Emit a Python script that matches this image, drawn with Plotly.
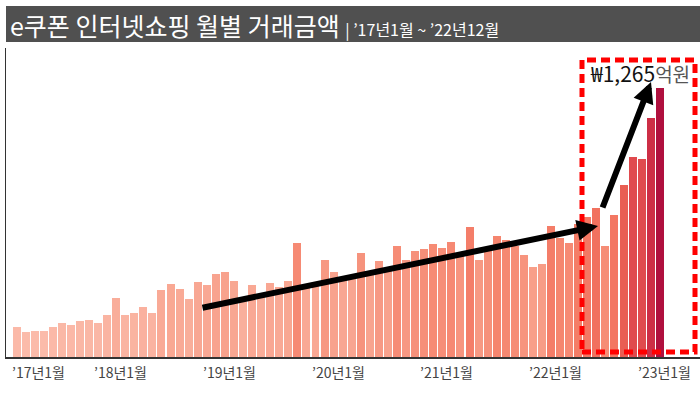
import plotly.graph_objects as go

# ---- data (monthly e-coupon internet shopping transaction amount, 억원) ----
months = [f"{y}-{m:02d}" for y in range(2017, 2023) for m in range(1, 13)]
values = [
    140, 116, 121, 121, 143, 159, 153, 170, 173, 162, 200, 280,   # 2017
    200, 206, 234, 209, 318, 346, 322, 275, 353, 341, 393, 402,   # 2018
    357, 264, 341, 287, 350, 330, 357, 536, 330, 338, 457, 402,   # 2019
    363, 372, 489, 389, 452, 406, 525, 459, 499, 509, 534, 514,   # 2020
    542, 475, 612, 456, 499, 569, 551, 523, 482, 423, 440, 619,   # 2021
    559, 536, 625, 660, 702, 523, 668, 810, 942, 935, 1124, 1265, # 2022
]
tick_pos = [0, 12, 24, 36, 48, 60, 72]
tick_labels = ["’17년1월", "’18년1월", "’19년1월", "’20년1월", "’21년1월", "’22년1월", "’23년1월"]
title_main = "e쿠폰 인터넷쇼핑 월별 거래금액"
title_sub = "| ’17년1월 ~ ’22년12월"
peak_label = "₩1,265"
peak_unit = "억원"

W, H = 700, 393
ML, MR, MT, MB = 6, 0, 48, 36
PW, PH = W - ML - MR, H - MT - MB
BASE = H - MB

def px(xp):
    return (xp - ML) / PW

def py(yp):
    return (BASE - yp) / PH

xs = [i + 0.5 for i in range(len(values))]

colorscale = [
    [0.0, "#fbbcab"],
    [0.25, "#f8a38e"],
    [0.40, "#f5846d"],
    [0.50, "#f27461"],
    [0.60, "#ea5f53"],
    [0.72, "#e04a4e"],
    [0.82, "#d93b49"],
    [0.92, "#c52544"],
    [1.0, "#b0103e"],
]

fig = go.Figure()
fig.add_trace(go.Bar(
    x=xs, y=values, width=0.88,
    marker=dict(color=values, colorscale=colorscale, cmin=110, cmax=1265, line=dict(width=0)),
    hoverinfo="skip", showlegend=False,
))

annotations = []
# x tick labels
for i, (p, t) in enumerate(zip(tick_pos, tick_labels)):
    annotations.append(dict(
        x=p, y=py(372), xref="x", yref="paper", text=t, showarrow=False,
        xanchor="left" if i == 0 else "center", xshift=-2 if i == 0 else 0,
        yanchor="middle",
        font=dict(family="Noto Sans CJK KR", size=14, color="#444444"),
    ))

# title
annotations.append(dict(
    x=px(8), y=py(25), xref="paper", yref="paper", xanchor="left", yanchor="middle",
    showarrow=False,
    text=f"{title_main} <span style='font-size:16px'>{title_sub}</span>",
    font=dict(family="Noto Sans CJK KR", size=25, color="#ffffff"),
))

# peak label
annotations.append(dict(
    x=px(588), y=py(73), xref="paper", yref="paper", xanchor="left", yanchor="middle",
    showarrow=False,
    text=f"{peak_label}<span style='font-size:19px;color:#555555'>{peak_unit}</span>",
    font=dict(family="Noto Sans CJK KR", size=21, color="#111111"),
))

# trend arrows
def xd(xp):
    return -0.66 + (xp - ML) / 9.06

def yd(yp):
    return (BASE - yp) * 4.711

annotations.append(dict(
    x=xd(598), y=yd(226), ax=xd(201), ay=yd(308), xref="x", yref="y", axref="x", ayref="y",
    text="", showarrow=True, arrowhead=2, arrowsize=0.7, arrowwidth=6, arrowcolor="#000000",
    standoff=0, startstandoff=0,
))
annotations.append(dict(
    x=xd(651), y=yd(82), ax=xd(602), ay=yd(209), xref="x", yref="y", axref="x", ayref="y",
    text="", showarrow=True, arrowhead=2, arrowsize=0.7, arrowwidth=6, arrowcolor="#000000",
    standoff=0, startstandoff=0,
))

shapes = [
    # title bar
    dict(type="rect", xref="paper", yref="paper", x0=px(6), x1=px(700), y0=py(42), y1=py(6),
         fillcolor="#505050", line=dict(width=0), layer="above"),
    # red dotted highlight box
    dict(type="rect", xref="paper", yref="paper", x0=px(582), x1=px(695), y0=py(352), y1=py(60),
         line=dict(color="#ff0000", width=5, dash="9px,5px"), fillcolor="rgba(0,0,0,0)", layer="above"),
]

fig.update_layout(
    width=W, height=H,
    margin=dict(l=ML, r=MR, t=MT, b=MB, pad=0),
    paper_bgcolor="#ffffff", plot_bgcolor="#ffffff",
    xaxis=dict(range=[-0.66, -0.66 + PW / 9.06], showgrid=False, zeroline=False,
               showticklabels=False, ticks="", showline=True, linecolor="#333333", linewidth=1.5,
               fixedrange=True),
    yaxis=dict(range=[0, PH * 4.711], showgrid=False, zeroline=False, showticklabels=False,
               ticks="", showline=True, linecolor="#333333", linewidth=1.5, fixedrange=True),
    annotations=annotations,
    shapes=shapes,
    bargap=0,
)

fig.write_html("out.html", config={"displayModeBar": False, "staticPlot": True},
               post_script="document.body.style.margin='0px';document.body.style.overflow='hidden';")
